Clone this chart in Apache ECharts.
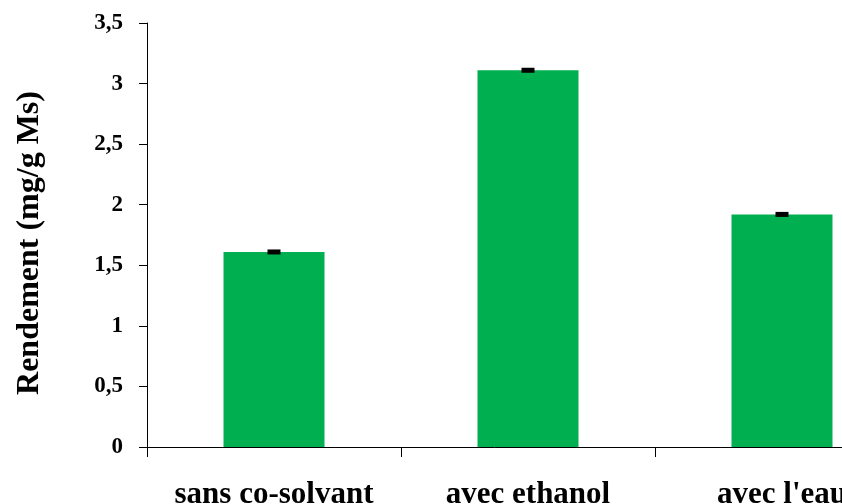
<!DOCTYPE html>
<html>
<head>
<meta charset="utf-8">
<script src="https://cdn.jsdelivr.net/npm/echarts@6/dist/echarts.min.js"></script>
<style>html,body{margin:0;padding:0;background:#fff;}#c{width:842px;height:504px;}</style>
</head>
<body>
<div id="c"></div>
<script>
var categories = ['sans co-solvant', 'avec ethanol', "avec l'eau"];
var values = [1.61, 3.11, 1.92];
var errors = [0.01, 0.01, 0.01];
var yTicks = { min: 0, max: 3.5, interval: 0.5 };

var font = "'Liberation Serif', 'Times New Roman', serif";
var chart = echarts.init(document.getElementById('c'));
var errData = values.map(function (v, i) { return [i, v - errors[i], v + errors[i]]; });

chart.setOption({
  animation: false,
  backgroundColor: '#fff',
  grid: { left: 147, top: 23, bottom: 57, right: -67, containLabel: false, outerBoundsMode: 'none' },
  xAxis: {
    type: 'category',
    data: categories,
    axisLine: { lineStyle: { color: '#000', width: 1 } },
    axisTick: { show: true, length: 10, lineStyle: { color: '#000' } },
    axisLabel: { interval: 0, hideOverlap: false, color: '#000', fontFamily: font, fontWeight: 'bold', fontSize: 31, margin: 32, lineHeight: 31 },
    splitLine: { show: false }
  },
  yAxis: {
    type: 'value',
    min: yTicks.min, max: yTicks.max, interval: yTicks.interval,
    name: 'Rendement (mg/g Ms)',
    nameLocation: 'middle',
    nameGap: 101,
    nameTextStyle: { color: '#000', fontFamily: font, fontWeight: 'bold', fontSize: 32, padding: [0, 16, 0, 0] },
    axisLine: { show: true, lineStyle: { color: '#000', width: 1 } },
    axisTick: { show: true, length: 8, lineStyle: { color: '#000' } },
    axisLabel: {
      color: '#000', fontFamily: font, fontWeight: 'bold', fontSize: 23, margin: 24,
      formatter: function (v) { return String(v).replace('.', ','); }
    },
    splitLine: { show: false }
  },
  series: [
    {
      type: 'bar',
      data: values,
      barWidth: 101,
      itemStyle: { color: '#00B050' }
    },
    {
      type: 'custom',
      data: errData,
      z: 10,
      renderItem: function (params, api) {
        var lo = api.coord([api.value(0), api.value(1)]);
        var hi = api.coord([api.value(0), api.value(2)]);
        var w = 13;
        var h = Math.max(lo[1] - hi[1], 5);
        var cy = (lo[1] + hi[1]) / 2;
        return {
          type: 'rect',
          shape: { x: lo[0] - w / 2, y: cy - h / 2, width: w, height: h },
          style: { fill: '#000' }
        };
      }
    }
  ]
});
</script>
</body>
</html>
